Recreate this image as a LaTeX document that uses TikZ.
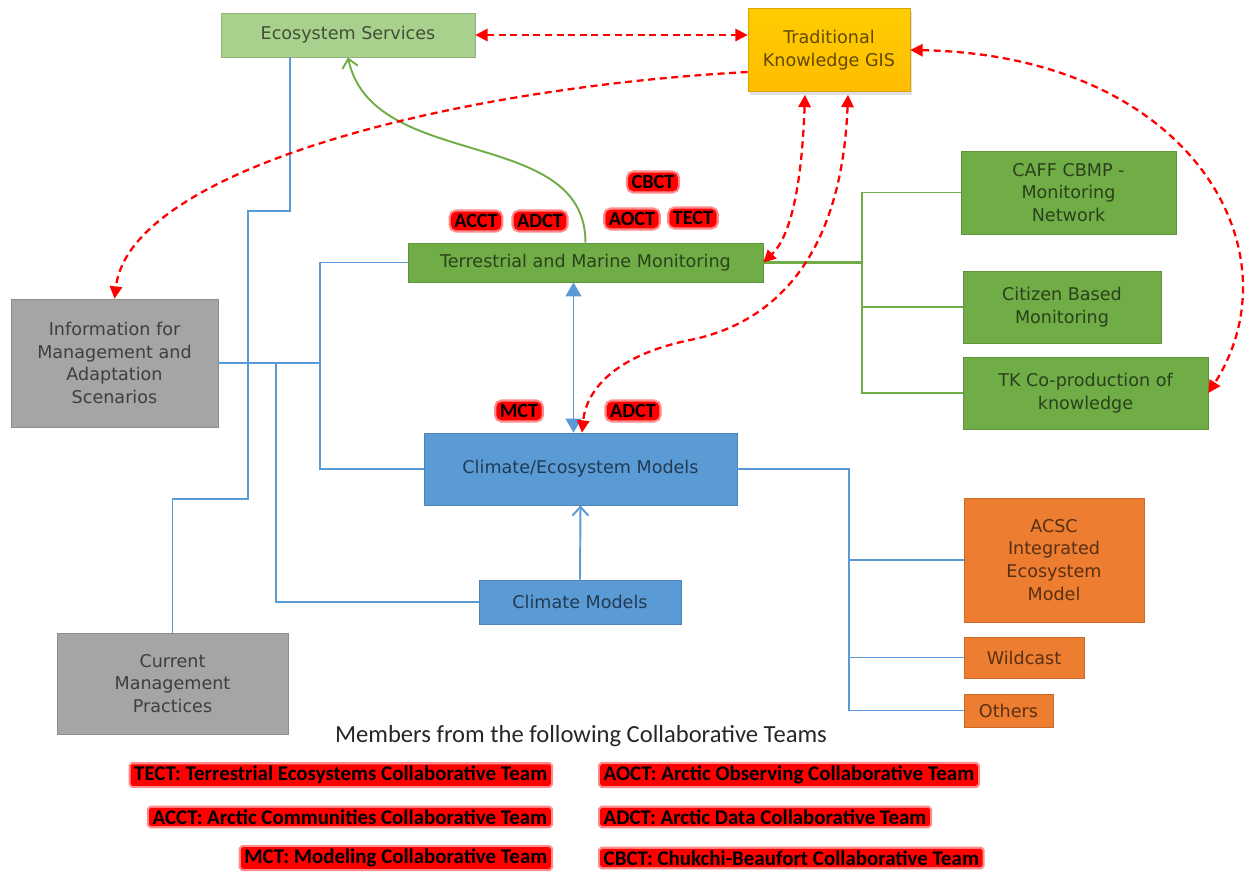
\documentclass[tikz,border=0pt]{standalone}
\usepackage{fontspec}
\setmainfont{DejaVu Sans}
\newfontfamily\calib{Carlito}
\usetikzlibrary{arrows.meta,shadows}
\definecolor{lgreen}{HTML}{A9D18E}
\definecolor{mgreen}{HTML}{70AD47}
\definecolor{mgray}{HTML}{A5A5A5}
\definecolor{mblue}{HTML}{5B9BD5}
\definecolor{morange}{HTML}{ED7D31}
\definecolor{gold}{HTML}{FFC000}
\tikzset{
  box/.style={draw=#1!85!black, fill=#1, text=black, text opacity=0.62, align=center,
    inner sep=0pt, font=\fontsize{10}{13}\selectfont},
  tag/.style={fill=red, draw=red, draw opacity=0.45, line width=2.5pt, rounded corners=3pt,
    text=black, inner xsep=2pt, inner ysep=1.5pt, font=\calib\bfseries\fontsize{11.5}{12}\selectfont},
  team/.style={tag, font=\calib\bfseries\fontsize{11.9}{13}\selectfont, rounded corners=1pt, inner ysep=1pt},
  bline/.style={draw=mblue, line width=1.1pt},
  gline/.style={draw=mgreen, line width=1.1pt},
  rdash/.style={draw=red, line width=1.3pt, dash pattern=on 4pt off 2.6pt},
  rboth/.style={rdash, {Triangle[length=7pt,width=7pt]}-{Triangle[length=7pt,width=7pt]}},
  rone/.style={rdash, -{Triangle[length=7pt,width=7pt]}},
}
\begin{document}
\begin{tikzpicture}[x=0.02cm,y=-0.02cm]
\useasboundingbox (0,0) rectangle (1252,873);
% boxes
\node[box=lgreen, minimum width=5.08cm, minimum height=0.88cm] (es) at (348,35) {Ecosystem Services};
\node[box=gold, top color=gold!80!yellow, bottom color=gold!95!orange, minimum width=3.24cm, minimum height=1.66cm,
  drop shadow={shadow xshift=1pt, shadow yshift=-2pt, opacity=0.25}] (tkgis) at (829,50) {Traditional\\Knowledge GIS};
\node[box=mgreen, minimum width=7.1cm, minimum height=0.78cm] (tmm) at (585.5,262.5) {Terrestrial and Marine Monitoring};
\node[box=mgreen, minimum width=4.3cm, minimum height=1.66cm] (caff) at (1068.5,192.5) {CAFF CBMP -\\Monitoring\\Network};
\node[box=mgreen, minimum width=3.96cm, minimum height=1.44cm] (cbm) at (1062,307) {Citizen Based\\Monitoring};
\node[box=mgreen, minimum width=4.9cm, minimum height=1.44cm] (tkcop) at (1085.5,393) {TK Co-production of\\knowledge};
\node[box=mgray, minimum width=4.14cm, minimum height=2.56cm] (info) at (114.5,363) {Information for\\Management and\\Adaptation\\Scenarios};
\node[box=mblue, minimum width=6.26cm, minimum height=1.44cm] (cem) at (580.5,469) {Climate/Ecosystem Models};
\node[box=mblue, minimum width=4.04cm, minimum height=0.88cm] (cm) at (580,602) {Climate Models};
\node[box=mgray, minimum width=4.62cm, minimum height=2.02cm] (cmp) at (172.5,683.5) {Current\\Management\\Practices};
\node[box=morange, minimum width=3.6cm, minimum height=2.48cm] (acsc) at (1054,560) {ACSC\\Integrated\\Ecosystem\\Model};
\node[box=morange, minimum width=2.4cm, minimum height=0.82cm] (wild) at (1024,657.5) {Wildcast};
\node[box=morange, minimum width=1.78cm, minimum height=0.66cm] (oth) at (1008.5,710.5) {Others};
% team tags
\node[tag] (tcbct) at (653,182) {CBCT};
\node[tag] (tacct) at (476,221) {ACCT};
\node[tag] (tadct) at (540,221) {ADCT};
\node[tag] (taoct) at (632,219) {AOCT};
\node[tag] (ttect) at (693,218) {TECT};
\node[tag] (tmct) at (519,411) {MCT};
\node[tag] (tadct2) at (633,411) {ADCT};
% blue connectors
\coordinate (hub) at (320,363);
\coordinate (hubb) at (276,363);
\coordinate (mbus) at (849,469);
\draw[bline] ([xshift=-1.16cm]es.south) -- ++(0,154) -| (248,499) -| (cmp.north);
\draw[bline] (info.east) -- (hub) |- (tmm.west);
\draw[bline] (hub) |- (cem.west);
\draw[bline] (hubb) |- (cm.west);
\draw[bline] (cem.east) -- (mbus) |- (oth.west);
\draw[bline] (mbus |- acsc.west) -- (acsc.west);
\draw[bline] (mbus |- wild.west) -- (wild.west);
\draw[bline, -{Straight Barb[length=5pt,width=9pt]}] (cm.north) -- (cem.south);
\draw[bline, {Triangle[length=8pt,width=9pt]}-{Triangle[length=8pt,width=9pt]}]
  ([xshift=-0.14cm]cem.north) -- ([xshift=-0.14cm]cem.north |- tmm.south);
% green connectors
\coordinate (gbus) at (862,262);
\draw[gline, line width=1.6pt] (tmm.east) -- (gbus |- tmm.east);
\draw[gline] (caff.west) -- (gbus |- caff.west) -- (gbus |- tkcop.west) -- (tkcop.west);
\draw[gline] (gbus |- cbm.west) -- (cbm.west);
\draw[gline, -{Straight Barb[length=5pt,width=9pt]}] (tmm.north) to[out=90,in=-78] (es.south);
% red dashed links
\draw[rboth] (es.east) -- (tkgis.west |- es.east);
\draw[rone] ([yshift=-0.44cm]tkgis.west) .. controls (450,88) and (130,170) .. (info.north);
\draw[rboth] (tkgis.east) .. controls (1190,55) and (1300,250) .. (tkcop.east);
\draw[rboth] ([xshift=-0.48cm,yshift=-0.06cm]tkgis.south) .. controls (802,180) and (792,235) .. (tmm.east);
\draw[rboth] ([xshift=0.38cm,yshift=-0.06cm]tkgis.south) .. controls (842,250) and (780,322) .. (690,340)
  .. controls (612,356) and (586,392) .. ([xshift=0.03cm]cem.north);
% legend
\node[font=\calib\fontsize{14}{16}\selectfont, text=black!85] (legtitle) at (581,736) {Members from the following Collaborative Teams};
\node[team, anchor=east] (ltect) at (553,775) {TECT: Terrestrial Ecosystems Collaborative Team};
\node[team, anchor=east] (lacct) at (553,817) {ACCT: Arctic Communities Collaborative Team};
\node[team, anchor=east] (lmct) at (553,858) {MCT: Modeling Collaborative Team};
\node[team, anchor=west] (laoct) at (598,775) {AOCT: Arctic Observing Collaborative Team};
\node[team, anchor=west] (ladct) at (598,817) {ADCT: Arctic Data Collaborative Team};
\node[team, anchor=west] (lcbct) at (598,858) {CBCT: Chukchi-Beaufort Collaborative Team};
\end{tikzpicture}
\end{document}
